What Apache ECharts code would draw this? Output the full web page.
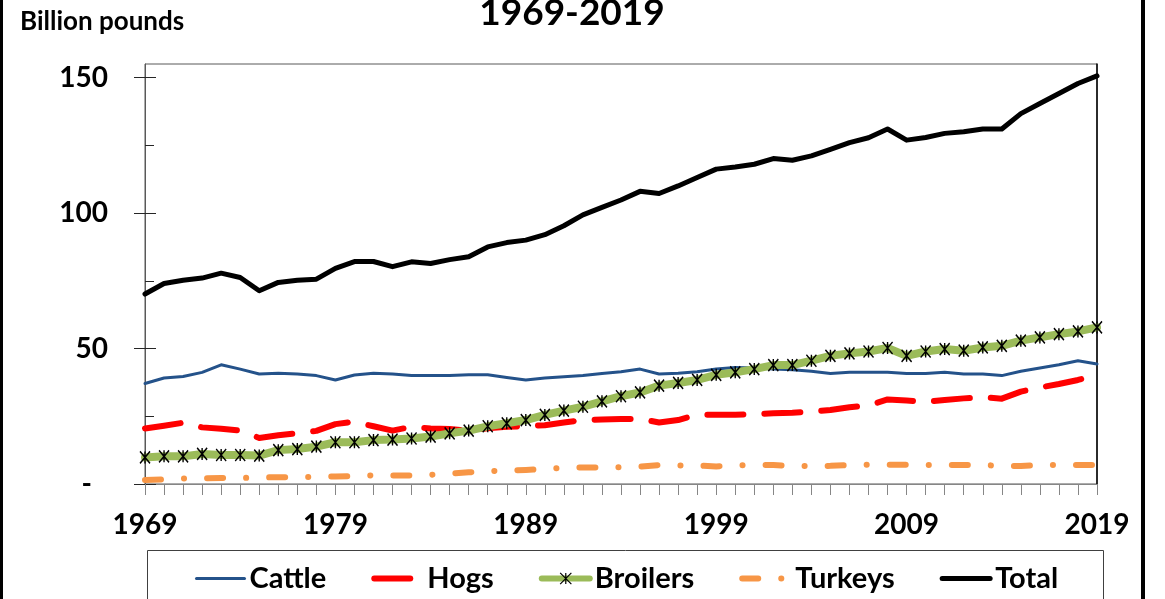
<!DOCTYPE html>
<html><head><meta charset="utf-8">
<script src="https://cdn.jsdelivr.net/npm/echarts@6/dist/echarts.min.js"></script>
<style>html,body{margin:0;padding:0;background:#fff;overflow:hidden}#c{width:1165px;height:599px}</style>
</head><body><div id="c"></div>
<script>
// ---- data (billion pounds) ----
const years = ['1969','1970','1971','1972','1973','1974','1975','1976','1977','1978',
  '1979','1980','1981','1982','1983','1984','1985','1986','1987','1988',
  '1989','1990','1991','1992','1993','1994','1995','1996','1997','1998',
  '1999','2000','2001','2002','2003','2004','2005','2006','2007','2008',
  '2009','2010','2011','2012','2013','2014','2015','2016','2017','2018','2019'];
const cattle = [37.1,39.1,39.7,41.2,44.0,42.4,40.6,40.9,40.6,40.0,38.4,40.2,40.9,
  40.6,40.0,40.0,40.0,40.3,40.3,39.3,38.4,39.1,39.6,40.0,40.8,41.4,
  42.4,40.6,40.9,41.4,42.4,43.0,42.8,42.4,42.2,41.6,40.8,41.2,41.2,
  41.2,40.8,40.8,41.2,40.6,40.6,40.0,41.6,42.8,44.0,45.5,44.3];
const hogs = [20.5,21.5,22.6,20.9,20.4,19.7,17.0,18.0,18.7,19.6,22.1,23.0,21.3,
  19.7,21.1,20.5,20.3,19.7,20.6,21.1,21.4,21.7,22.7,23.6,23.8,24.0,
  24.0,22.7,23.6,25.6,25.6,25.6,25.8,26.1,26.3,26.7,27.3,28.3,29.0,
  31.2,30.8,30.4,31.0,31.6,32.0,31.5,34.1,35.6,36.9,38.4,40.3];
const broilers = [9.8,10.2,10.2,11.1,10.7,10.7,10.5,12.5,12.9,13.8,15.4,15.4,16.2,
  16.4,16.8,17.5,18.7,19.7,21.3,22.4,23.6,25.5,27.1,28.5,30.5,32.4,
  33.8,36.3,37.3,38.4,40.3,41.2,42.4,43.9,43.9,45.5,47.3,48.2,48.9,
  50.2,47.3,48.9,49.8,49.2,50.4,51.0,52.9,54.1,55.3,56.3,57.8];
const turkeys = [1.5,1.7,2.0,2.1,2.2,2.2,2.4,2.5,2.5,2.6,2.8,2.9,3.2,
  3.1,3.1,3.4,3.8,4.3,4.7,5.0,5.2,5.5,6.0,6.1,6.1,6.2,
  6.4,7.0,6.8,6.8,6.5,6.9,7.0,7.0,6.7,6.6,6.7,7.0,7.1,
  7.1,7.1,7.0,7.0,7.0,7.0,6.7,6.6,7.0,7.0,7.0,7.0];
const total = [70.1,74.0,75.2,76.0,77.8,76.2,71.3,74.4,75.2,75.6,79.6,82.1,82.1,
  80.2,82.0,81.4,82.8,83.9,87.5,89.1,90.0,92.0,95.3,99.3,102.1,104.8,
  108.0,107.2,110.0,113.1,116.2,117.0,118.0,120.1,119.5,121.1,123.5,126.0,127.8,
  131.0,126.9,127.9,129.4,130.0,131.0,131.0,136.7,140.4,144.1,147.8,150.6];
const yTickValues = [0,25,50,75,100,125,150];
const yLabelValues = [0,50,100,150];
const seriesNames = ['Cattle','Hogs','Broilers','Turkeys','Total'];
const titleText = '1969-2019';
const unitText = 'Billion pounds';

// ---- chart ----
const FONT = 'Lato';
const colors = {Cattle:'#24528A',Hogs:'#FF0000',Broilers:'#9BBB59',Turkeys:'#F79646',Total:'#000000'};
const widths = {Cattle:3,Hogs:6,Broilers:8,Turkeys:6,Total:5};
const chart = echarts.init(document.getElementById('c'));
const starPath = 'path://M0,0L10,12M10,0L0,12M5,0L5,12';
const baseY = {type:'value',min:0,max:155,splitLine:{show:false}};
chart.setOption({
  animation:false,
  backgroundColor:'#fff',
  grid:{left:145,right:68,top:64,bottom:115,show:true,borderColor:'#595959',borderWidth:1},
  xAxis:{type:'category',data:years,boundaryGap:false,
    axisLine:{onZero:false,lineStyle:{color:'#868686',width:1}},
    axisTick:{show:true,interval:0,length:11,lineStyle:{color:'#868686'}},
    axisLabel:{interval:9,margin:27,color:'#000',fontFamily:FONT,fontWeight:'bold',fontSize:28}},
  yAxis:[
    Object.assign({},baseY,{position:'left',
      axisLine:{show:true,lineStyle:{color:'#595959'}},
      axisTick:{show:true,inside:true,length:9,customValues:yTickValues,lineStyle:{color:'#262626'}},
      axisLabel:{customValues:yLabelValues,margin:37,color:'#000',fontFamily:FONT,fontWeight:'bold',fontSize:28,
        formatter:v=> v===0 ? '{z|-}' : String(v),
        rich:{z:{fontFamily:FONT,fontWeight:'bold',fontSize:28,color:'#000',padding:[0,16,0,0]}}}}),
    Object.assign({},baseY,{position:'left',axisLine:{show:false},
      axisTick:{show:true,inside:false,length:11,customValues:yLabelValues,lineStyle:{color:'#262626'}},
      axisLabel:{show:false}}),
    Object.assign({},baseY,{position:'left',axisLine:{show:false},
      axisTick:{show:true,inside:true,length:11,customValues:yLabelValues,lineStyle:{color:'#262626'}},
      axisLabel:{show:false}}),
    Object.assign({},baseY,{position:'right',axisLine:{show:true,lineStyle:{color:'#000',width:1.5}},
      axisTick:{show:false},axisLabel:{show:false}})
  ],
  legend:{left:190,top:559,itemWidth:48,itemHeight:14,itemGap:45,
    data:seriesNames.map(n=>({name:n,
      itemStyle: n==='Broilers' ? {color:'#000',borderColor:'#000',borderWidth:1.2} : {opacity:0},
      lineStyle:{width: n==='Broilers' ? 6 : widths[n], color:colors[n]}})),
    textStyle:{fontFamily:FONT,fontWeight:'bold',fontSize:29,color:'#000'}},
  series:[
    {name:seriesNames[0],type:'line',data:cattle,symbol:'none',z:2,
      lineStyle:{color:colors.Cattle,width:widths.Cattle,cap:'round',join:'round'},itemStyle:{color:colors.Cattle}},
    {name:seriesNames[1],type:'line',data:hogs,symbol:'none',z:3,
      lineStyle:{color:colors.Hogs,width:widths.Hogs,type:[36,21],cap:'round',join:'round'},itemStyle:{color:colors.Hogs}},
    {name:seriesNames[2],type:'line',data:broilers,symbol:starPath,symbolSize:[10,12],showSymbol:true,z:4,
      lineStyle:{color:colors.Broilers,width:widths.Broilers,cap:'round',join:'round'},
      itemStyle:{color:'#000',borderColor:'#000',borderWidth:1.5}},
    {name:seriesNames[3],type:'line',data:turkeys,symbol:'none',z:5,
      lineStyle:{color:colors.Turkeys,width:widths.Turkeys,type:[16,23,0.1,23],cap:'round',join:'round'},itemStyle:{color:colors.Turkeys}},
    {name:seriesNames[4],type:'line',data:total,symbol:'none',z:6,
      lineStyle:{color:colors.Total,width:widths.Total,cap:'round',join:'round'},itemStyle:{color:colors.Total}}
  ],
  graphic:[
    {type:'rect',shape:{x:0,y:0,width:3,height:599},style:{fill:'#000'}},
    {type:'rect',shape:{x:1141,y:0,width:4,height:599},style:{fill:'#000'}},
    {type:'rect',shape:{x:147.5,y:550.5,width:956,height:60},style:{fill:'none',stroke:'#404040',lineWidth:1}},
    {type:'text',x:20,y:22,style:{text:unitText,font:'bold 26px Lato',fill:'#000',verticalAlign:'middle'}},
    {type:'text',x:572,y:13,style:{text:titleText,font:'bold 37px Lato',fill:'#000',align:'center',verticalAlign:'middle'}}
  ]
});
</script></body></html>
